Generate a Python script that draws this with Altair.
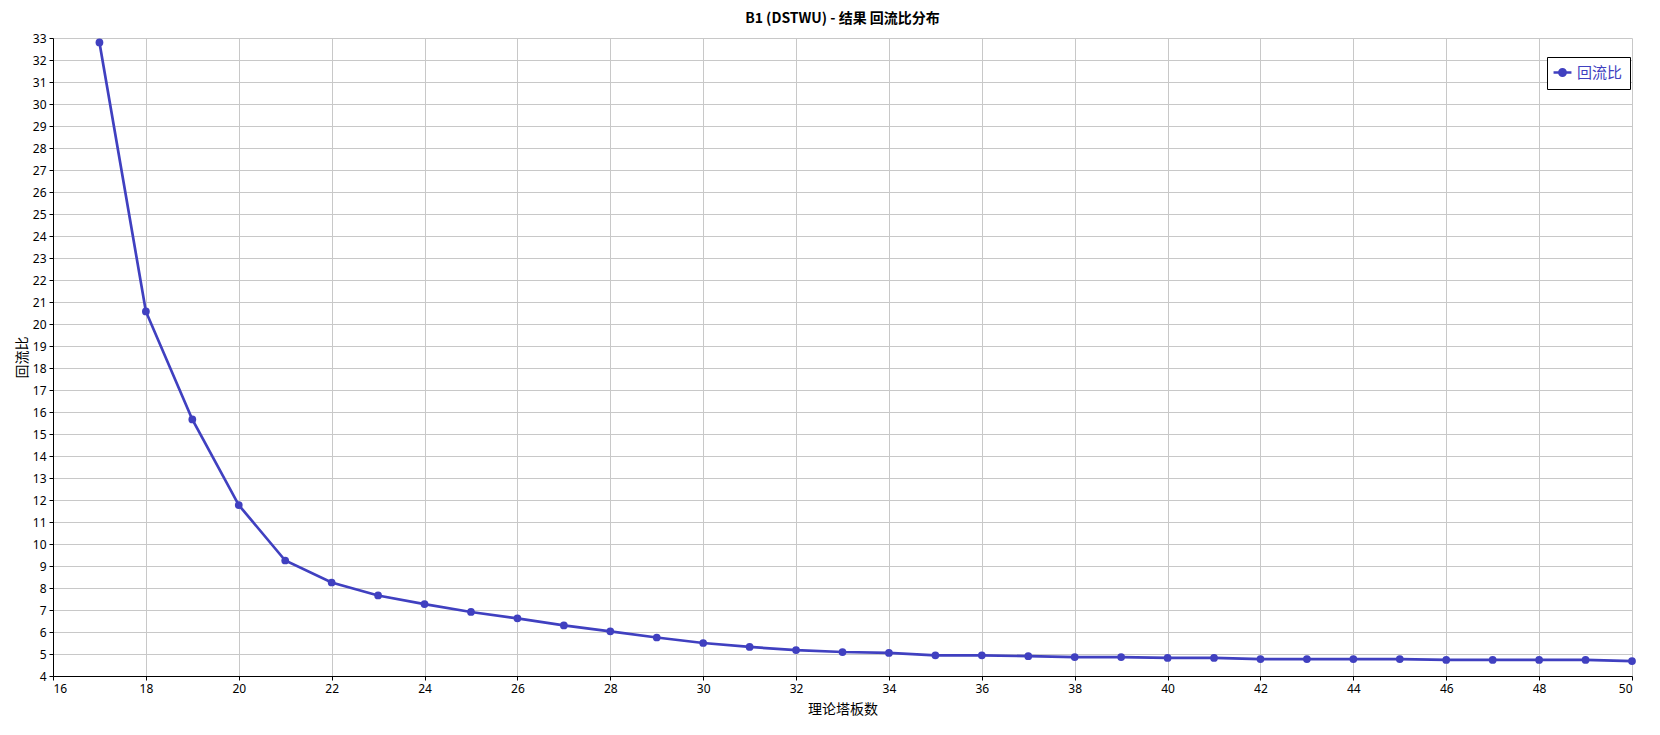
import altair as alt
import pandas as pd

stages = list(range(17, 51))
reflux = [32.80, 20.57, 15.66, 11.77, 9.25, 8.25, 7.66, 7.27, 6.91, 6.62,
          6.30, 6.03, 5.75, 5.50, 5.32, 5.18, 5.09, 5.05, 4.94, 4.94,
          4.90, 4.86, 4.86, 4.82, 4.82, 4.77, 4.77, 4.77, 4.77, 4.73,
          4.73, 4.73, 4.73, 4.68]
series_name = "回流比"
title_text = "B1 (DSTWU) - 结果 回流比分布"
x_title = "理论塔板数"
y_title = "回流比"

df = pd.DataFrame({"stage": stages, "reflux": reflux, "series": [series_name] * len(stages)})

COLOR = "#4040c0"
CJK = "Noto Sans CJK SC"

legend_symbol = "M-1.3,0L1.3,0M-0.45,0A0.45,0.45 0 1,1 0.45,0A0.45,0.45 0 1,1 -0.45,0Z"

chart = alt.Chart(df).mark_line(
    strokeWidth=2.7,
    point=alt.OverlayMarkDef(filled=True, size=60, color=COLOR),
).encode(
    x=alt.X("stage:Q",
            scale=alt.Scale(domain=[16, 50], nice=False, zero=False),
            axis=alt.Axis(title=x_title, values=list(range(16, 51, 2)), format="d",
                          titlePadding=8)),
    y=alt.Y("reflux:Q",
            scale=alt.Scale(domain=[4, 33], nice=False, zero=False),
            axis=alt.Axis(title=y_title, values=list(range(4, 34)), format="d",
                          titleX=-31, titleY=319, titleAlign="center",
                          titleBaseline="middle", titleAngle=270)),
    color=alt.Color("series:N",
                    scale=alt.Scale(domain=[series_name], range=[COLOR]),
                    legend=alt.Legend(title=None, orient="none", legendX=1494, legendY=19,
                                      strokeColor="black", fillColor="white",
                                      padding=7, symbolType=legend_symbol,
                                      symbolSize=190, symbolStrokeWidth=2.7,
                                      symbolFillColor=COLOR, symbolStrokeColor=COLOR,
                                      labelColor=COLOR, labelFont=CJK, labelFontSize=15,
                                      labelOffset=6)),
).properties(
    width=1579,
    height=638,
    title=alt.TitleParams(title_text, font=CJK, fontSize=14, fontWeight="bold",
                          color="black", anchor="middle", offset=6),
    autosize=alt.AutoSizeParams(type="none"),
    padding={"left": 45, "top": 30, "right": 20, "bottom": 40},
).configure_view(
    stroke=None
).configure_axis(
    grid=True,
    gridColor="#c8c8c8",
    gridWidth=1,
    domainColor="black",
    domainWidth=1,
    tickColor="black",
    tickSize=4,
    labelFont="Noto Sans",
    labelFontSize=12,
    labelColor="black",
    labelPadding=3,
    titleFont=CJK,
    titleFontSize=14,
    titleFontWeight="normal",
    titleColor="black",
)

chart.save("out.html", embed_options={"renderer": "svg", "actions": False})
